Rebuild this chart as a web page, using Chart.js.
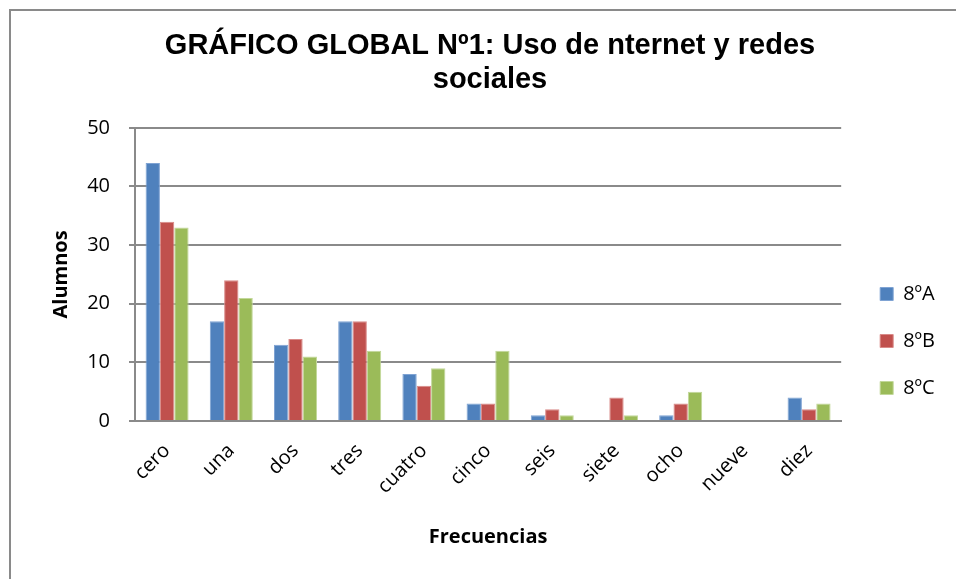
<!DOCTYPE html>
<html>
<head>
<meta charset="utf-8">
<script src="https://cdn.jsdelivr.net/npm/chart.js@4/dist/chart.umd.min.js"></script>
<style>
    body { margin: 0; background: #fff; }
    #wrap { position: relative; width: 956px; height: 579px; overflow: hidden; }
    #frame { position: absolute; left: 9px; top: 9px; width: 1000px; height: 1000px;
             border-left: 2px solid #8a8a8a; border-top: 2px solid #8a8a8a; }
    canvas { position: absolute; left: 0; top: 0; }
</style>
</head>
<body>
<div id="wrap">
    <div id="frame"></div>
    <canvas id="myChart" width="956" height="579"></canvas>
</div>
<script>
const categories = ['cero', 'una', 'dos', 'tres', 'cuatro', 'cinco', 'seis', 'siete', 'ocho', 'nueve', 'diez'];
const serie_8A = [44, 17, 13, 17, 8, 3, 1, 0, 1, 0, 4];
const serie_8B = [34, 24, 14, 17, 6, 3, 2, 4, 3, 0, 2];
const serie_8C = [33, 21, 11, 12, 9, 12, 1, 1, 5, 0, 3];
const series_names = ['8ºA', '8ºB', '8ºC'];
const y_ticks = [0, 10, 20, 30, 40, 50];

const text_font = "'Open Sans', Lato, sans-serif";

function setChart() {
    let ctx = document.getElementById('myChart').getContext('2d');

    return new Chart(ctx, {
        type: 'bar',
        data: {
            labels: categories,
            datasets: [{
                label: series_names[0],
                data: serie_8A,
                backgroundColor: '#4F81BD',
                borderColor: '#7fa3d3',
                borderWidth: 1
            }, {
                label: series_names[1],
                data: serie_8B,
                backgroundColor: '#C0504D',
                borderColor: '#d98a88',
                borderWidth: 1
            }, {
                label: series_names[2],
                data: serie_8C,
                backgroundColor: '#9BBB59',
                borderColor: '#c2d89a',
                borderWidth: 1
            }]
        },
        options: {
            responsive: false,
            animation: false,
            categoryPercentage: 0.67,
            barPercentage: 1.0,
            layout: {
                padding: {left: 35, right: 11, top: 0, bottom: 0}
            },
            plugins: {
                title: {
                    display: true,
                    text: ['GRÁFICO GLOBAL Nº1: Uso de nternet y redes', 'sociales'],
                    color: '#000',
                    font: {family: "'Liberation Sans', Arial, sans-serif", size: 29, weight: 'bold', lineHeight: 1.17},
                    padding: {top: 29, bottom: 31}
                },
                legend: {
                    position: 'right',
                    title: {
                        display: true,
                        text: ' ',
                        font: {size: 1, lineHeight: 1},
                        padding: {top: 102, bottom: 0}
                    },
                    labels: {
                        color: '#000',
                        boxWidth: 13,
                        boxHeight: 13,
                        padding: 27,
                        font: {family: text_font, size: 20}
                    }
                },
                tooltip: {enabled: false}
            },
            scales: {
                x: {
                    grid: {display: false},
                    border: {display: true, color: '#8a8a8a', width: 2},
                    ticks: {
                        color: '#000',
                        minRotation: 45,
                        maxRotation: 45,
                        padding: 10,
                        font: {family: text_font, size: 20}
                    },
                    title: {
                        display: true,
                        text: 'Frecuencias',
                        color: '#000',
                        font: {family: text_font, size: 20, weight: 'bold'},
                        padding: {top: 0, bottom: 30}
                    },
                    afterFit: function (scale) {
                        scale.height = 158;
                    }
                },
                y: {
                    min: 0,
                    max: 50,
                    afterBuildTicks: function (scale) {
                        scale.ticks = y_ticks.map(v => ({value: v}));
                    },
                    grid: {color: '#8a8a8a', lineWidth: 2, tickLength: 6},
                    border: {display: true, color: '#8a8a8a', width: 2},
                    ticks: {
                        color: '#000',
                        padding: 19,
                        font: {family: text_font, size: 20}
                    },
                    title: {
                        display: true,
                        text: 'Alumnos',
                        color: '#000',
                        font: {family: text_font, size: 20, weight: 'bold'},
                        padding: {top: 14, bottom: 0}
                    },
                    afterFit: function (scale) {
                        scale.width = 100;
                    }
                },
                gap: {
                    type: 'linear',
                    position: 'right',
                    grid: {display: false},
                    border: {display: false},
                    ticks: {display: false},
                    afterFit: function (scale) {
                        scale.width = 12;
                    }
                }
            }
        }
    });
}

setChart();
</script>
</body>
</html>
